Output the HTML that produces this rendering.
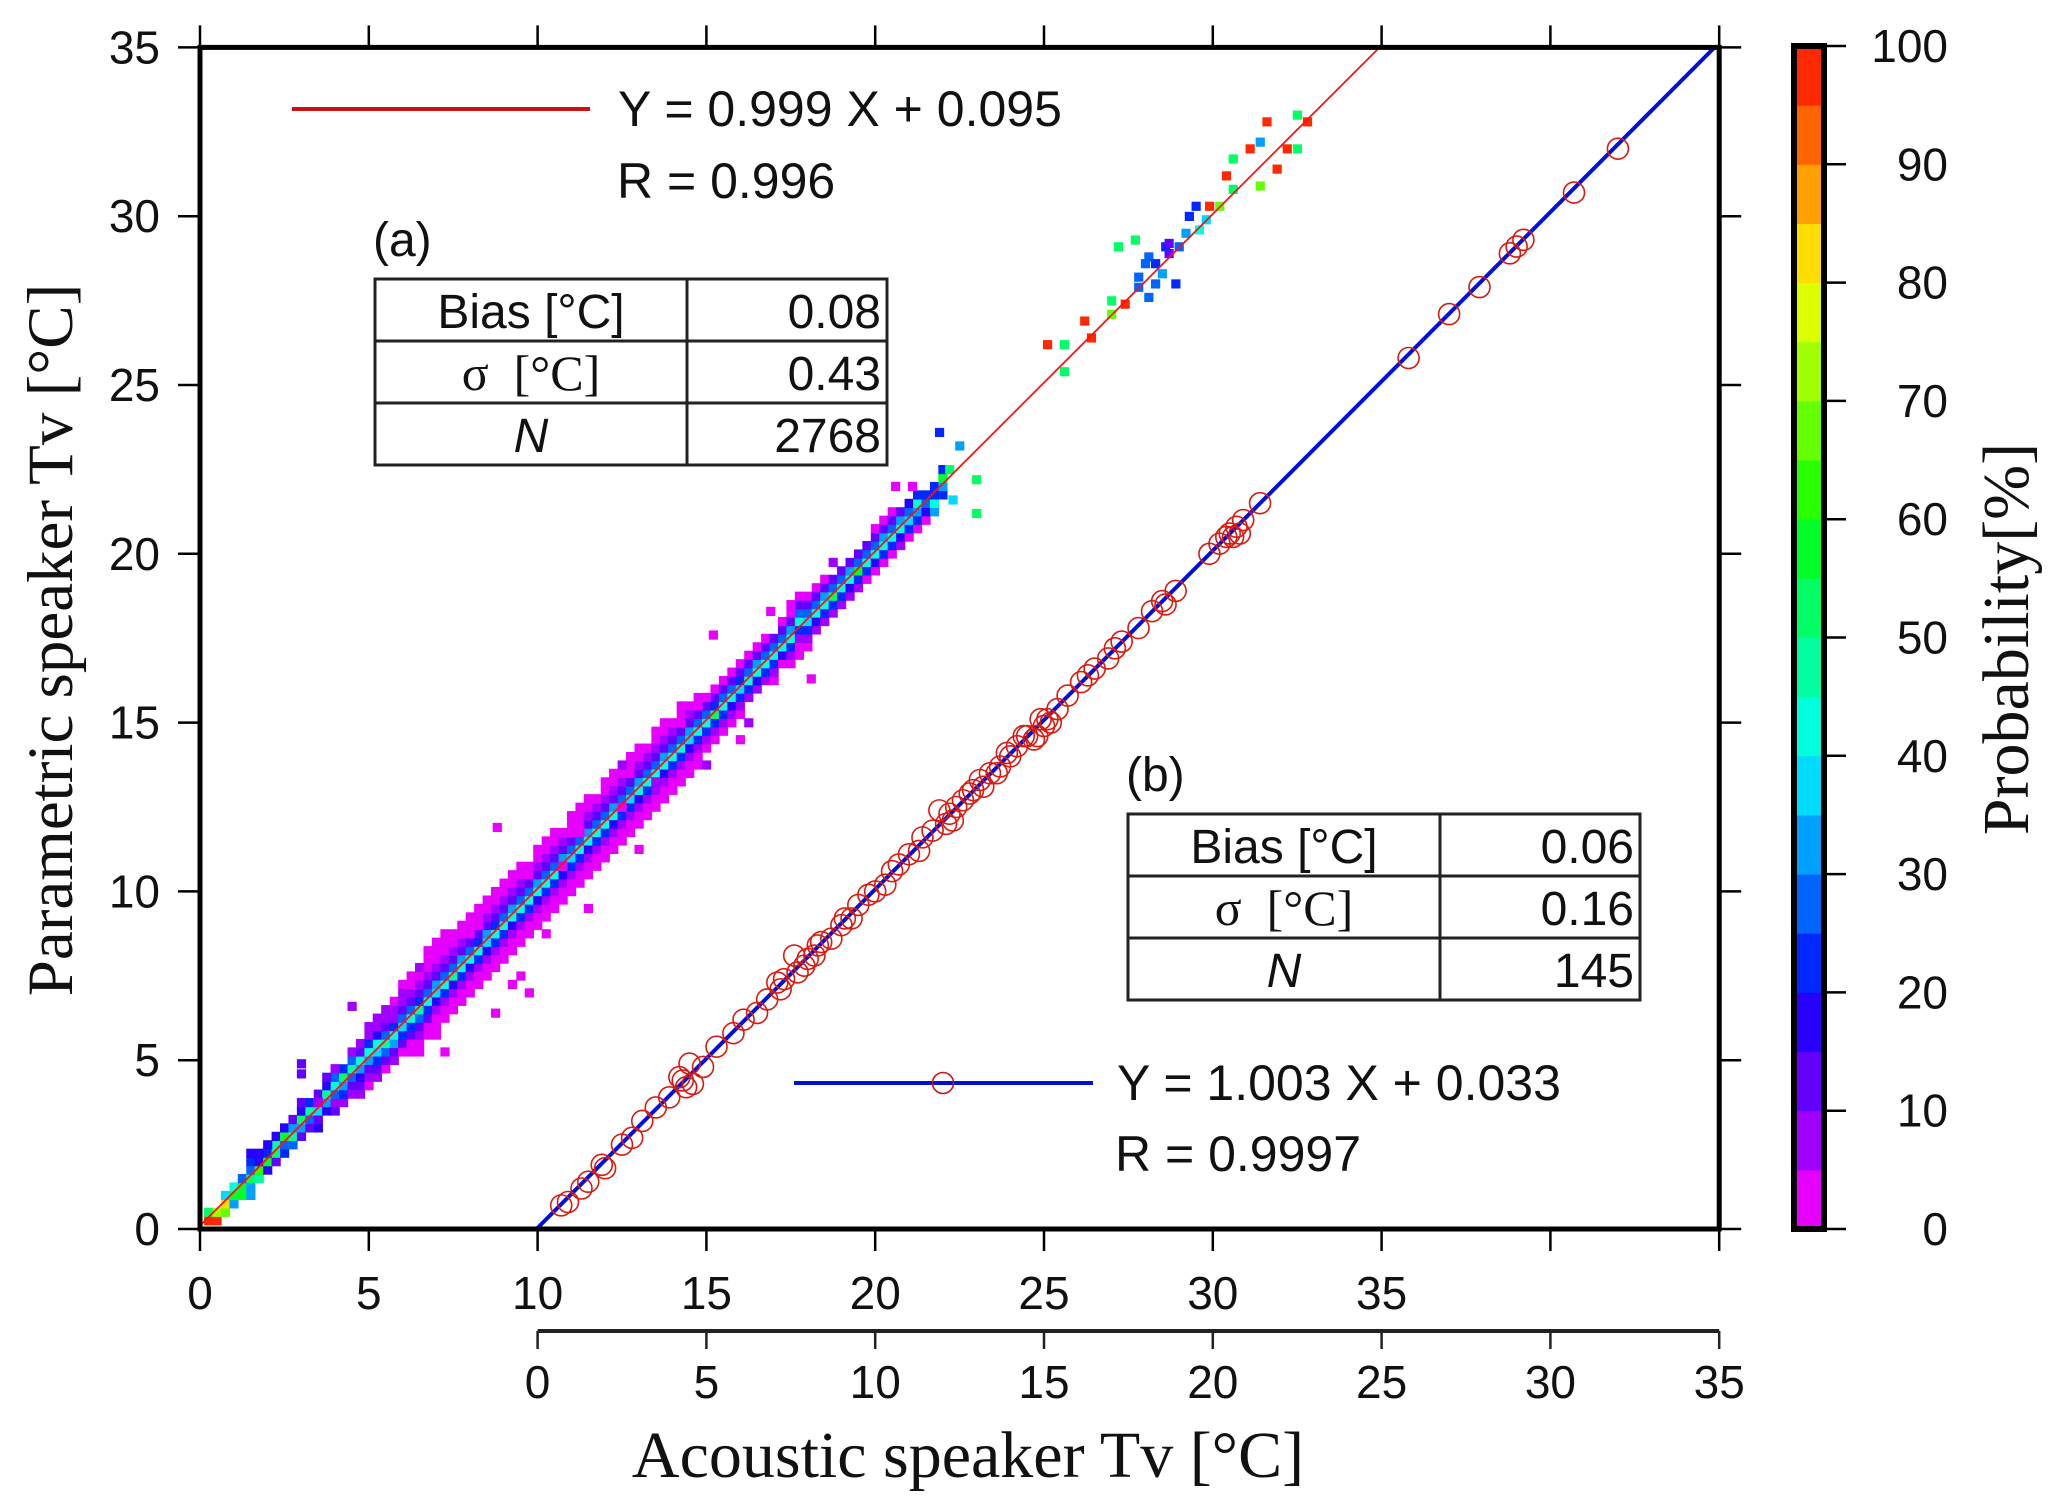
<!DOCTYPE html>
<html><head><meta charset="utf-8"><style>
html,body{margin:0;padding:0;background:#fff;}
svg{display:block;}
.t{font-family:"Liberation Sans",sans-serif;fill:#111;}
.s{font-family:"Liberation Serif",serif;fill:#111;}
</style></head><body>
<svg id="chart" width="2050" height="1506" viewBox="0 0 2050 1506" xmlns="http://www.w3.org/2000/svg">
<g id="cells"></g>
<g id="lines"></g>
<g id="circles"></g>
<g id="axes"></g>
<g id="cbar"></g>

<g>
<line x1="292" y1="109" x2="590" y2="109" stroke="#d01010" stroke-width="4"/>
<text class="t" x="618" y="126" font-size="50">Y = 0.999 X + 0.095</text>
<text class="t" x="617" y="198" font-size="50">R = 0.996</text>
<text class="t" x="373" y="256" font-size="48">(a)</text>
</g>
<g fill="none" stroke="#222" stroke-width="3">
<rect x="375" y="279" width="512" height="186"/>
<line x1="687" y1="279" x2="687" y2="465"/>
<line x1="375" y1="341" x2="887" y2="341"/>
<line x1="375" y1="403" x2="887" y2="403"/>
</g>
<g>
<text class="t" x="531" y="328" font-size="48" text-anchor="middle">Bias [°C]</text>
<text class="t" x="881" y="328" font-size="48" text-anchor="end">0.08</text>
<text class="s" x="531" y="390" font-size="50" text-anchor="middle">σ&#160;&#160;[°C]</text>
<text class="t" x="881" y="390" font-size="48" text-anchor="end">0.43</text>
<text class="t" x="531" y="452" font-size="48" text-anchor="middle" font-style="italic">N</text>
<text class="t" x="881" y="452" font-size="48" text-anchor="end">2768</text>
</g>

<g>
<line x1="794" y1="1083" x2="1093" y2="1083" stroke="#0010d0" stroke-width="4"/>
<circle cx="943" cy="1083" r="10.5" fill="none" stroke="#d01010" stroke-width="1.6"/>
<text class="t" x="1117" y="1100" font-size="50">Y = 1.003 X + 0.033</text>
<text class="t" x="1115" y="1171" font-size="50">R = 0.9997</text>
<text class="t" x="1126" y="791" font-size="48">(b)</text>
</g>
<g fill="none" stroke="#222" stroke-width="3">
<rect x="1128" y="814" width="512" height="186"/>
<line x1="1440" y1="814" x2="1440" y2="1000"/>
<line x1="1128" y1="876" x2="1640" y2="876"/>
<line x1="1128" y1="938" x2="1640" y2="938"/>
</g>
<g>
<text class="t" x="1284" y="863" font-size="48" text-anchor="middle">Bias [°C]</text>
<text class="t" x="1634" y="863" font-size="48" text-anchor="end">0.06</text>
<text class="s" x="1284" y="925" font-size="50" text-anchor="middle">σ&#160;&#160;[°C]</text>
<text class="t" x="1634" y="925" font-size="48" text-anchor="end">0.16</text>
<text class="t" x="1284" y="987" font-size="48" text-anchor="middle" font-style="italic">N</text>
<text class="t" x="1634" y="987" font-size="48" text-anchor="end">145</text>
</g>

<text class="s" x="0" y="0" font-size="65" text-anchor="middle" transform="translate(72,640) rotate(-90)">Parametric speaker Tv [°C]</text>
<text class="s" x="968" y="1477" font-size="66" text-anchor="middle">Acoustic speaker Tv [°C]</text>
<text class="s" x="0" y="0" font-size="66" text-anchor="middle" transform="translate(2028,639) rotate(-90)">Probability[%]</text>
</svg>
<script>
// ---------- data ----------
// heatmap columns: [x, yStart, probabilities of contiguous 0.25°C cells]
const heatColumns = [
[0.25,0.25,[95,52]],[0.5,0.25,[98,70]],[0.75,0.5,[68,80,35]],[1.0,0.75,[33,55,40]],
[1.25,1.0,[58,55,28]],[1.5,1.0,[30,30,52,28,20,18]],[1.75,1.5,[48,60,18]],[2.0,1.75,[15,58,20]],
[2.25,2.0,[12,50,45,15]],[2.5,2.25,[20,28,55,18]],[2.75,2.5,[25,45,30,12]],[3.0,2.75,[10,30,50,15,12]],
[3.25,3.0,[14,25,48,22]],[3.5,3.0,[18,12,38,40,12]],[3.75,3.5,[15,30,45,18]],[4.0,3.5,[12,8,25,40,25,14]],
[4.25,3.75,[8,20,32,50,22]],[4.5,4.0,[6,12,28,45,25,8]],[4.75,4.0,[8,10,18,30,42,14,8]],[5.0,4.25,[3,6,14,30,44,22,9,6]],
[5.25,4.5,[9,12,22,35,40,16,8,3]],[5.5,4.75,[3,12,25,45,28,10,6,3]],[5.75,5.0,[8,14,30,42,22,9,7,4]],[6.0,5.25,[3,10,22,38,25,12,6,8,3]],
[6.25,5.25,[3,4,12,20,40,28,10,6,3,3]],[6.5,5.5,[3,5,14,25,45,20,12,8,4,3]],[6.75,5.75,[3,3,10,22,42,26,10,6,3,3,3]],[7.0,6.0,[3,3,8,18,38,30,12,6,4,3,3]],
[7.25,6.25,[3,3,6,20,40,28,14,6,3,2,3]],[7.5,6.5,[3,2,8,18,45,26,12,5,3,3]],[7.75,6.75,[3,2,6,20,42,30,10,6,3,3]],[8.0,7.0,[3,3,7,18,40,28,12,5,2,3]],
[8.25,7.25,[3,2,6,22,44,24,10,4,3,3]],[8.5,7.5,[3,3,8,18,38,30,12,6,3,3]],[8.75,7.75,[3,2,7,22,44,24,10,5,2,3]],[9.0,8.0,[3,3,8,20,40,28,12,6,2,3]],
[9.25,8.25,[3,2,6,18,42,30,10,5,3,3]],[9.5,8.5,[3,3,7,20,44,26,12,6,3,3]],[9.75,8.75,[3,2,8,22,40,28,10,4,3]],[10.0,9.0,[3,3,6,18,42,30,12,5,2,3]],
[10.25,9.25,[3,2,7,20,44,26,10,6,3,3]],[10.5,9.5,[3,3,8,22,40,28,12,5,2,3]],[10.75,9.75,[3,2,6,18,42,30,10,6,3]],[11.0,10.0,[3,3,7,20,38,28,12,5,3,3]],
[11.25,10.25,[3,2,8,22,44,26,10,4,2,3]],[11.5,10.5,[3,3,6,18,40,30,12,6,3,3]],[11.75,10.75,[3,2,7,20,42,28,10,5,3]],[12.0,11.0,[3,3,8,22,44,26,12,6,2,3]],
[12.25,11.25,[3,2,6,18,40,30,10,5,3,3]],[12.5,11.5,[3,3,7,20,42,28,12,6,3]],[12.75,11.75,[3,2,8,22,38,26,10,4,2,3]],[13.0,12.0,[3,3,6,18,44,30,12,5,3,3]],
[13.25,12.25,[3,2,7,20,40,28,10,6,3]],[13.5,12.5,[3,3,8,22,42,26,12,5,2,3]],[13.75,12.75,[3,2,6,18,44,30,10,6,3,3]],[14.0,13.0,[3,3,7,20,40,28,12,5,3]],
[14.25,13.25,[3,2,8,22,42,26,10,4,2,3]],[14.5,13.5,[3,3,6,18,38,30,12,6,3]],[14.75,13.75,[3,2,7,20,44,28,10,5,3]],[15.0,14.25,[3,8,22,40,26,12,3]],
[15.25,14.5,[3,7,20,52,24,10,4]],[15.5,14.75,[3,8,22,42,26,12,3]],[15.75,15.0,[3,6,18,40,28,10,3]],[16.0,15.25,[3,8,20,38,24,12,3]],
[16.25,15.75,[7,22,44,26,10,4]],[16.5,16.0,[8,18,40,30,12,3]],[16.75,16.25,[6,20,42,26,10,3]],[17.0,16.25,[3,8,22,40,28,12]],
[17.25,16.75,[4,18,44,26,10,4]],[17.5,16.75,[3,8,20,40,30,12,3]],[17.75,17.0,[3,3,7,22,42,26,10,3]],[18.0,17.25,[4,8,20,38,28,12,3]],
[18.25,17.75,[6,18,40,26,10,4]],[18.5,18.0,[8,22,44,30,12,3]],[18.75,18.25,[7,20,50,28,10]],[19.0,18.5,[8,22,42,26,12]],
[19.25,18.75,[6,18,40,30,10]],[19.5,19.0,[8,20,55,28,14]],[19.75,19.25,[3,22,42,26,12]],[20.0,19.5,[3,18,40,28,10,4]],
[20.25,19.75,[3,20,44,30,12,3]],[20.5,20.0,[3,22,40,26,10,4]],[20.75,20.25,[8,18,42,30,12]],[21.0,20.5,[3,20,38,28,18]],
[21.25,20.75,[3,22,30,40,22]],[21.5,21.0,[3,18,28,22]],[21.75,21.25,[30,40,20,22]],[22.0,21.75,[24,30,55,20]]
];
// isolated cells: [x, y, probability]
const heatSingles = [
[8.8,11.9,3],[15.2,17.6,3],[18.1,16.3,3],[15.0,13.75,8],[13.0,11.25,3],[10.75,10.75,3],[9.75,7.0,3],[8.75,6.4,3],
[4.5,6.6,8],[3.0,4.9,12],[3.0,4.6,12],[16.9,18.3,3],[7.25,5.25,3],[6.5,7.75,8],[12.5,12.5,3],[11.5,9.5,3],[13.5,13.25,8],
[7.75,8.75,3],[8.0,8.75,3],[8.25,9.0,3],[9.5,7.5,3],[9.25,7.25,3],[10.25,8.75,3],[11.0,11.75,3],[11.25,11.75,3],
[12.25,13.5,3],[12.5,13.75,8],[14.75,15.5,3],[15.0,15.75,3],[16.0,14.5,3],[16.25,15.0,8],[17.5,18.5,3],[18.75,19.75,8],
[5.25,6.25,8],[5.5,6.5,8],[4.0,4.75,8],[6.5,5.25,3],[7.0,5.75,3],[3.5,3.75,8],[3.75,4.5,12],[2.0,2.5,18],[1.75,2.25,18],
[21.9,23.6,22],[22.5,23.2,32],[23.0,22.2,52],[23.0,21.2,52],[22.3,21.6,35],[22.2,22.5,52],[20.6,22.0,3],[21.1,22.0,3],
[25.1,26.2,97],[25.6,26.2,52],[25.6,25.4,52],[26.2,26.9,97],[26.4,26.4,97],[27.0,27.5,52],[27.0,27.1,68],[27.4,27.4,97],
[27.2,29.1,52],[27.7,29.3,52],[27.8,28.2,28],[28.1,28.8,28],[28.1,27.6,28],[28.6,29.1,22],[28.9,28.0,22],[29.2,29.5,32],
[29.5,30.3,22],[29.8,29.9,38],[30.2,30.3,68],[30.4,31.2,97],[30.6,30.8,52],[30.6,31.7,52],[31.1,32.0,97],[31.4,32.2,32],
[31.4,30.9,68],[31.6,32.8,97],[31.9,31.4,97],[32.2,32.0,97],[32.5,32.0,52],[32.5,33.0,52],[32.8,32.8,97],
[28.3,28.6,22],[28.5,28.3,32],[28.7,28.9,12],[28.7,29.2,12],[29.0,29.1,28],[29.3,30.0,22],[29.6,29.6,42],[29.9,30.3,97],
[27.8,27.9,28],[28.3,28.0,28],[28.0,28.6,28]
];
// acoustic (b) series: X = acoustic Tv, Y = parametric Tv
const circX = [0.7,0.9,1.3,1.5,1.9,2.0,2.5,2.8,3.1,3.5,3.9,4.3,4.5,4.4,4.9,5.3,5.8,6.1,6.5,6.8,7.2,7.3,7.6,7.7,8.0,8.3,8.4,8.7,9.0,9.3,9.5,9.8,10.0,10.5,10.7,11.0,11.3,11.7,11.9,12.1,12.2,12.4,12.6,12.9,13.2,13.4,13.7,14.0,14.2,14.5,14.7,14.9,15.0,15.1,15.4,15.7,16.1,16.5,16.9,17.3,17.8,18.2,18.5,18.9,19.9,20.2,20.4,20.5,20.7,20.9,21.4,25.8,27.0,27.9,28.8,29.0,29.2,30.7,32.0,
4.6,4.2,7.1,7.9,8.2,9.1,10.3,11.4,12.3,12.8,13.1,13.6,13.9,14.4,14.8,15.2,16.3,17.1,18.6,20.6,20.8];
const circY = [0.7,0.8,1.2,1.4,1.9,1.8,2.5,2.7,3.2,3.6,3.9,4.4,4.9,4.2,4.8,5.4,5.8,6.2,6.4,6.8,7.1,7.4,8.1,7.6,8.0,8.4,8.5,8.6,9.0,9.2,9.6,9.9,10.0,10.6,10.8,11.1,11.2,11.8,12.4,12.0,12.3,12.5,12.7,13.0,13.1,13.5,13.7,14.0,14.3,14.6,14.5,15.1,14.9,15.1,15.4,15.8,16.2,16.6,16.9,17.4,17.8,18.3,18.6,18.9,20.0,20.3,20.5,20.6,20.8,21.0,21.5,25.8,27.1,27.9,28.9,29.1,29.3,30.7,32.0,
4.3,4.5,7.3,7.8,8.1,9.2,10.2,11.6,12.1,12.9,13.3,13.5,14.1,14.6,14.6,15.0,16.4,17.2,18.5,20.5,20.6];
const fitA = [0.999, 0.095];
const fitB = [1.003, 0.033];
const bOffset = 10;
const xTicks = [0,5,10,15,20,25,30,35];
const xTopTicks = [0,5,10,15,20,25,30,35,40,45];
const yTicks = [0,5,10,15,20,25,30,35];
const x2Ticks = [0,5,10,15,20,25,30,35];
const cbTicks = [0,10,20,30,40,50,60,70,80,90,100];
const cbColors = ['#e600ff','#a000ff','#6400ff','#2800ff','#0028ff','#0064ff','#00a0ff','#00dcff','#00ffdc','#00ffa0','#00ff64','#00ff28','#28ff00','#64ff00','#a0ff00','#dcff00','#ffdc00','#ffa000','#ff6400','#ff2800'];

// ---------- scales ----------
const X0=200, Y0=1229, K=33.76, XMAX=45, YMAX=35;
const sx = v => X0 + v*K;
const sy = v => Y0 - v*K;
const NS='http://www.w3.org/2000/svg';
function mk(tag, attrs, parent){const e=document.createElementNS(NS,tag);for(const k in attrs)e.setAttribute(k,attrs[k]);parent.appendChild(e);return e;}
const colorOf = p => cbColors[Math.min(19, Math.max(0, Math.floor(p/5)))];

// ---------- heatmap ----------
const gC=document.getElementById('cells');
const cw=0.26*K;
function cell(x,y,p){
  const r=mk('rect',{x:sx(x)-cw/2,y:sy(y)-cw/2,width:cw+0.4,height:cw+0.4,fill:colorOf(p)},gC);
  
  
}
heatColumns.forEach(c=>{c[2].forEach((p,i)=>cell(c[0],c[1]+i*0.25,p));});
heatSingles.forEach(s=>cell(s[0],s[1],s[2]));

// ---------- fit lines ----------
const gL=document.getElementById('lines');
const xEndA=(YMAX-fitA[1])/fitA[0];
const la=mk('line',{x1:sx(0),y1:sy(fitA[1]),x2:sx(xEndA),y2:sy(YMAX),stroke:'#ff1010','stroke-width':1.8},gL);


const xEndB=Math.min(XMAX-bOffset,(YMAX-fitB[1])/fitB[0]);
const lb=mk('line',{x1:sx(bOffset),y1:sy(fitB[1]),x2:sx(xEndB+bOffset),y2:sy(fitB[0]*xEndB+fitB[1]),stroke:'#0010d8','stroke-width':4},gL);



// ---------- circles ----------
const gO=document.getElementById('circles');
circX.forEach((x,i)=>{
  const c=mk('circle',{cx:sx(x+bOffset),cy:sy(circY[i]),r:10.5,fill:'none',stroke:'#d81a10','stroke-width':1.6},gO);
  
  
});

// ---------- axes ----------
const gA=document.getElementById('axes');
const frame=mk('rect',{x:X0,y:sy(YMAX),width:XMAX*K,height:YMAX*K,fill:'none',stroke:'#000','stroke-width':5},gA);


xTicks.forEach(v=>{
  const t=mk('text',{x:sx(v),y:1309,'font-size':46,'text-anchor':'middle',class:'t'},gA);t.textContent=v;
  
  
});
xTopTicks.forEach(v=>{mk('line',{x1:sx(v),y1:sy(YMAX),x2:sx(v),y2:sy(YMAX)-22,stroke:'#000','stroke-width':2.5},gA);
  mk('line',{x1:sx(v),y1:Y0,x2:sx(v),y2:Y0+22,stroke:'#000','stroke-width':2.5},gA);});
yTicks.forEach(v=>{
  mk('line',{x1:X0-22,y1:sy(v),x2:X0,y2:sy(v),stroke:'#000','stroke-width':2.5},gA);
  mk('line',{x1:sx(XMAX),y1:sy(v),x2:sx(XMAX)+22,y2:sy(v),stroke:'#000','stroke-width':2.5},gA);
  const t=mk('text',{x:160,y:sy(v)+16,'font-size':46,'text-anchor':'end',class:'t'},gA);t.textContent=v;
  
  
});
const ax2=mk('line',{x1:sx(bOffset),y1:1331,x2:sx(XMAX),y2:1331,stroke:'#222','stroke-width':4},gA);


x2Ticks.forEach(v=>{
  mk('line',{x1:sx(v+bOffset),y1:1331,x2:sx(v+bOffset),y2:1349,stroke:'#222','stroke-width':2.5},gA);
  const t=mk('text',{x:sx(v+bOffset),y:1398,'font-size':46,'text-anchor':'middle',class:'t'},gA);t.textContent=v;
  
  
});

// ---------- colorbar ----------
const gB=document.getElementById('cbar');
const CB0=1229, CB1=46, CBX=1794, CBW=30;
const cy=p=>CB0-(p/100)*(CB0-CB1);
cbColors.forEach((c,i)=>{
  const r=mk('rect',{x:CBX,y:cy((i+1)*5),width:CBW,height:cy(i*5)-cy((i+1)*5)+0.5,fill:c},gB);
  
  
});
mk('rect',{x:CBX,y:CB1,width:CBW,height:CB0-CB1,fill:'none',stroke:'#000','stroke-width':6},gB);
cbTicks.forEach(v=>{
  mk('line',{x1:CBX+CBW,y1:cy(v),x2:1846,y2:cy(v),stroke:'#000','stroke-width':2.5},gB);
  const t=mk('text',{x:1948,y:cy(v)+16,'font-size':46,'text-anchor':'end',class:'t'},gB);t.textContent=v;
  
  
});
</script>
</body></html>
